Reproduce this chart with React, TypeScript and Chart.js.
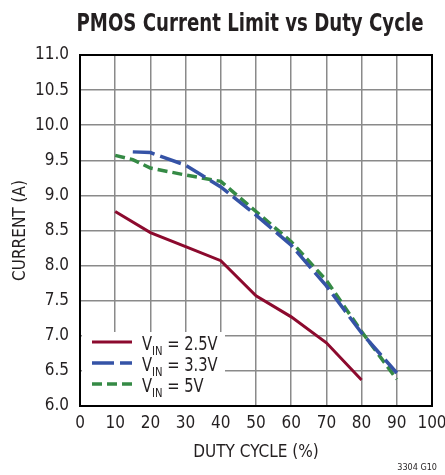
import React, { useEffect, useRef } from "react";
import { Chart, registerables } from "chart.js";
Chart.register(...registerables);

const titleText = "PMOS Current Limit vs Duty Cycle";
const xTitle = "DUTY CYCLE (%)";
const yTitle = "CURRENT (A)";
const noteText = "3304 G10";

const dutyRed = [10, 20, 30, 40, 50, 60, 70, 80];
const currentRed = [8.77, 8.47, 8.27, 8.07, 7.57, 7.27, 6.9, 6.37];
const dutyBlue = [15, 20, 30, 40, 50, 60, 70, 80, 90];
const currentBlue = [9.62, 9.61, 9.43, 9.12, 8.72, 8.29, 7.71, 7.04, 6.47];
const dutyGreen = [10, 15, 20, 30, 40, 50, 60, 70, 80, 90];
const currentGreen = [9.57, 9.51, 9.39, 9.29, 9.2, 8.77, 8.34, 7.79, 7.06, 6.38];
const seriesVin = ["2.5V", "3.3V", "5V"];

const FONT = "'Liberation Sans Narrow', 'DejaVu Sans Condensed', 'Roboto Condensed', sans-serif";
const RED = "#8c0a2e";
const BLUE = "#3553a6";
const GREEN = "#358a45";
const TEXT = "#231f20";

const toPts = (xs: number[], ys: number[]) => xs.map((x, i) => ({ x, y: ys[i] }));

const decorPlugin = {
  id: "decor",
  afterDatasetsDraw(chart: any) {
    const { ctx, chartArea: a } = chart;
    ctx.save();
    ctx.strokeStyle = "#000";
    ctx.lineWidth = 2;
    ctx.strokeRect(a.left, a.top, a.right - a.left, a.bottom - a.top);
    const lx = a.left + 2;
    const ly = 332;
    ctx.fillStyle = "#fff";
    ctx.fillRect(lx, ly, 225 - lx, a.bottom - 1 - ly);
    const items = [
      { c: RED, d: [] as number[], w: 3 },
      { c: BLUE, d: [22, 6], w: 3.5 },
      { c: GREEN, d: [10, 5], w: 3.5 },
    ];
    items.forEach((it, i) => {
      const y = 342 + i * 21;
      ctx.strokeStyle = it.c;
      ctx.lineWidth = it.w;
      ctx.setLineDash(it.d);
      ctx.beginPath();
      ctx.moveTo(92, y);
      ctx.lineTo(132, y);
      ctx.stroke();
      ctx.setLineDash([]);
      ctx.save();
      ctx.fillStyle = TEXT;
      ctx.textBaseline = "alphabetic";
      ctx.textAlign = "left";
      const base = y + 8;
      ctx.translate(142, base);
      ctx.scale(0.86, 1);
      ctx.font = `19px ${FONT}`;
      let x = 0;
      ctx.fillText("V", x, 0);
      x += ctx.measureText("V").width;
      ctx.font = `13px ${FONT}`;
      ctx.fillText("IN", x, 5);
      x += ctx.measureText("IN").width;
      ctx.font = `19px ${FONT}`;
      ctx.fillText(" = " + seriesVin[i], x, 0);
      ctx.restore();
    });
    ctx.restore();
  },
  afterDraw(chart: any) {
    const { ctx } = chart;
    ctx.save();
    ctx.fillStyle = TEXT;
    ctx.textAlign = "center";
    ctx.textBaseline = "alphabetic";
    ctx.font = `bold 24px ${FONT}`;
    const w = ctx.measureText(titleText).width;
    const target = 347;
    ctx.translate(250, 31);
    ctx.scale(target / w, 1);
    ctx.fillText(titleText, 0, 0);
    ctx.restore();
    ctx.save();
    ctx.fillStyle = TEXT;
    ctx.font = `9px ${FONT}`;
    ctx.textAlign = "right";
    ctx.fillText(noteText, 437, 470);
    ctx.restore();
  },
};

export default function App() {
  const ref = useRef<HTMLCanvasElement | null>(null);
  useEffect(() => {
    if (!ref.current) return;
    const chart = new Chart(ref.current, {
      type: "scatter",
      data: {
        datasets: [
          {
            label: "VIN = 2.5V",
            data: toPts(dutyRed, currentRed),
            showLine: true,
            borderColor: RED,
            borderWidth: 3,
            pointRadius: 0,
          },
          {
            label: "VIN = 3.3V",
            data: toPts(dutyBlue, currentBlue),
            showLine: true,
            borderColor: BLUE,
            borderWidth: 3.5,
            borderDash: [22, 6],
            pointRadius: 0,
          },
          {
            label: "VIN = 5V",
            data: toPts(dutyGreen, currentGreen),
            showLine: true,
            borderColor: GREEN,
            borderWidth: 3.5,
            borderDash: [10, 5],
            pointRadius: 0,
          },
        ],
      },
      options: {
        animation: false,
        responsive: false,
        layout: { padding: { left: 0, right: 13, top: 55, bottom: 0 } },
        plugins: { legend: { display: false }, tooltip: { enabled: false }, title: { display: false } },
        scales: {
          x: {
            type: "linear",
            min: 0,
            max: 100,
            ticks: { stepSize: 10, color: TEXT, font: { family: FONT, size: 17 }, padding: 7, maxRotation: 0 },
            grid: { color: "#8a8a8a", lineWidth: 1.5, drawTicks: false },
            border: { color: "#000", width: 2 },
            title: { display: true, text: xTitle, color: TEXT, font: { family: FONT, size: 17 }, padding: { top: 4, bottom: 12 } },
            afterFit: (s: any) => {
              s.height = 69;
              s.paddingLeft = 0;
              s.paddingRight = 0;
            },
          },
          y: {
            type: "linear",
            min: 6,
            max: 11,
            ticks: { stepSize: 0.5, color: TEXT, font: { family: FONT, size: 17 }, padding: 11, callback: (v: any) => Number(v).toFixed(1) },
            grid: { color: "#8a8a8a", lineWidth: 1.5, drawTicks: false },
            border: { color: "#000", width: 2 },
            title: { display: true, text: yTitle, color: TEXT, font: { family: FONT, size: 17 }, padding: { top: 10, bottom: 0 } },
            afterFit: (s: any) => {
              s.width = 80;
              s.paddingTop = 0;
              s.paddingBottom = 0;
            },
          },
        },
      },
      plugins: [decorPlugin],
    } as any);
    return () => chart.destroy();
  }, []);
  return (
    <div style={{ position: "fixed", left: 0, top: 0, width: 445, height: 475, background: "#fff" }}>
      <canvas ref={ref} width={445} height={475} style={{ display: "block", width: 445, height: 475 }} />
    </div>
  );
}
